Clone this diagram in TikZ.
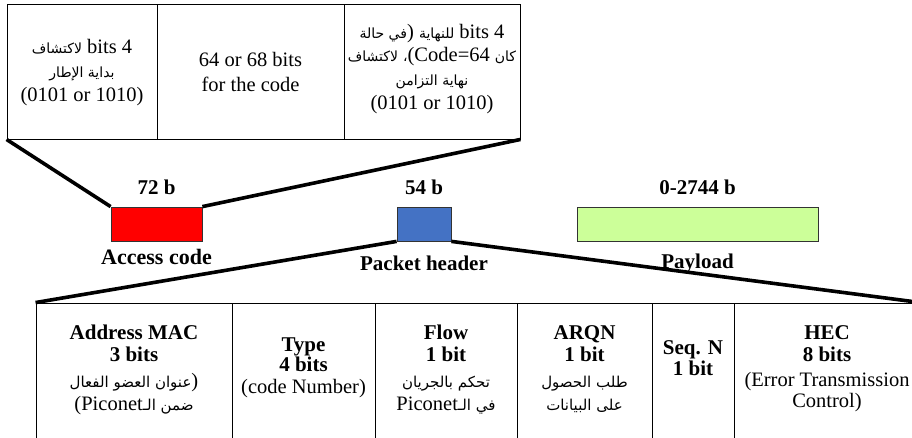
\documentclass[tikz,border=0pt]{standalone}
\usepackage{fontspec}
\setmainfont{Liberation Serif}
\newfontfamily\arfont[Script=Arabic]{DejaVu Sans}
\TeXXeTstate=1
\newcommand{\AR}[1]{{\arfont\fontsize{15}{17}\selectfont\beginR #1\endR}}
\newcommand{\ARt}[1]{{\arfont\fontsize{14}{16}\selectfont\beginR #1\endR}}
\begin{document}
\begin{tikzpicture}[x=1pt,y=-1pt,
  cell/.style={draw=black, line width=0.9pt, inner sep=0pt, minimum height=#1},
  conn/.style={line width=3.6pt},
  bar/.style={draw=black!80, line width=0.8pt, inner sep=0pt, minimum height=34pt},
  tx/.style={font=\fontsize{20.5}{24}\selectfont, inner sep=0pt, text height=14pt, text depth=3pt},
  bx/.style={font=\fontsize{21}{24}\selectfont\bfseries, inner sep=0pt, text height=14pt, text depth=3pt}]
\useasboundingbox (0,0) rectangle (912,438);
\clip (0,0) rectangle (912,438);
\fill[white] (0,0) rectangle (912,438);
% top table
\node[cell=135pt, minimum width=150pt] (t1) at (82,71.5) {};
\node[cell=135pt, minimum width=187pt] (t2) at (250.5,71.5) {};
\node[cell=135pt, minimum width=176pt] (t3) at (432,71.5) {};
\node[tx] (t1a) at (82,48) {\ARt{لاكتشاف} bits 4};
\node[tx] (t1b) at (82,72) {\ARt{بداية الإطار}};
\node[tx] (t1c) at (82,96) {(0101 or 1010)};
\node[tx] (t2a) at (250.5,61) {64 or 68 bits};
\node[tx] (t2b) at (250.5,86) {for the code};
\node[tx] (t3a) at (432,33) {\ARt{في حالة}) \ARt{للنهاية} bits 4};
\node[tx] (t3b) at (432,56) {\ARt{لاكتشاف} \ARt{،}(Code=64 \ARt{كان}};
\node[tx] (t3c) at (432,80) {\ARt{نهاية التزامن}};
\node[tx] (t3d) at (432,104) {(0101 or 1010)};
% middle bars
\node[bar, fill={rgb,255:red,255;green,0;blue,0}, minimum width=91pt] (ac) at (156.5,224) {};
\node[bar, fill={rgb,255:red,68;green,114;blue,196}, minimum width=54pt] (ph) at (424,224) {};
\node[bar, fill={rgb,255:red,204;green,255;blue,153}, minimum width=241pt] (pl) at (697.5,224) {};
\node[bx] (acs) at (156.5,189) {72 b};
\node[bx] (phs) at (424,189) {54 b};
\node[bx] (pls) at (697.5,189) {0-2744 b};
\node[bx, font=\fontsize{22}{24}\selectfont\bfseries] (acl) at (156.5,259) {Access code};
\node[bx] (phl) at (424,265) {Packet header};
\node[bx] (pll) at (697.5,263) {Payload};
% bottom table
\node[cell=160pt, minimum width=196pt] (b1) at (134,383) {};
\node[cell=160pt, minimum width=143pt] (b2) at (303.5,383) {};
\node[cell=160pt, minimum width=142pt] (b3) at (446,383) {};
\node[cell=160pt, minimum width=135pt] (b4) at (584.5,383) {};
\node[cell=160pt, minimum width=82pt] (b5) at (693,383) {};
\node[cell=160pt, minimum width=186pt] (b6) at (827,383) {};
\node[bx] (b1a) at (134,334) {Address MAC};
\node[bx] (b1b) at (134,356) {3 bits};
\node[tx] (b1c) at (134,382) {\AR{عنوان العضو الفعال})};
\node[tx] (b1d) at (134,405) {(Piconet\AR{ضمن الـ}};
\node[bx] (b2a) at (303.5,346) {Type};
\node[bx] (b2b) at (303.5,366) {4 bits};
\node[tx] (b2c) at (303.5,388) {(code Number)};
\node[bx] (b3a) at (446,334) {Flow};
\node[bx] (b3b) at (446,356) {1 bit};
\node[tx] (b3c) at (446,382) {\AR{تحكم بالجريان}};
\node[tx] (b3d) at (446,405) {Piconet\AR{في الـ}};
\node[bx] (b4a) at (584.5,334) {ARQN};
\node[bx] (b4b) at (584.5,356) {1 bit};
\node[tx] (b4c) at (584.5,382) {\AR{طلب الحصول}};
\node[tx] (b4d) at (584.5,405) {\AR{على البيانات}};
\node[bx] (b5a) at (693,349) {Seq. N};
\node[bx] (b5b) at (693,370) {1 bit};
\node[bx] (b6a) at (827,334) {HEC};
\node[bx] (b6b) at (827,356) {8 bits};
\node[tx] (b6c) at (827,381) {(Error Transmission};
\node[tx] (b6d) at (827,402) {Control)};
% connectors
\draw[conn] (t1.south west) -- (ac.north west);
\draw[conn] (ac.north east) -- (t3.south east);
\draw[conn] (ph.south west) -- (b1.north west);
\draw[conn] (ph.south east) -- (b6.north east);
\end{tikzpicture}
\end{document}
